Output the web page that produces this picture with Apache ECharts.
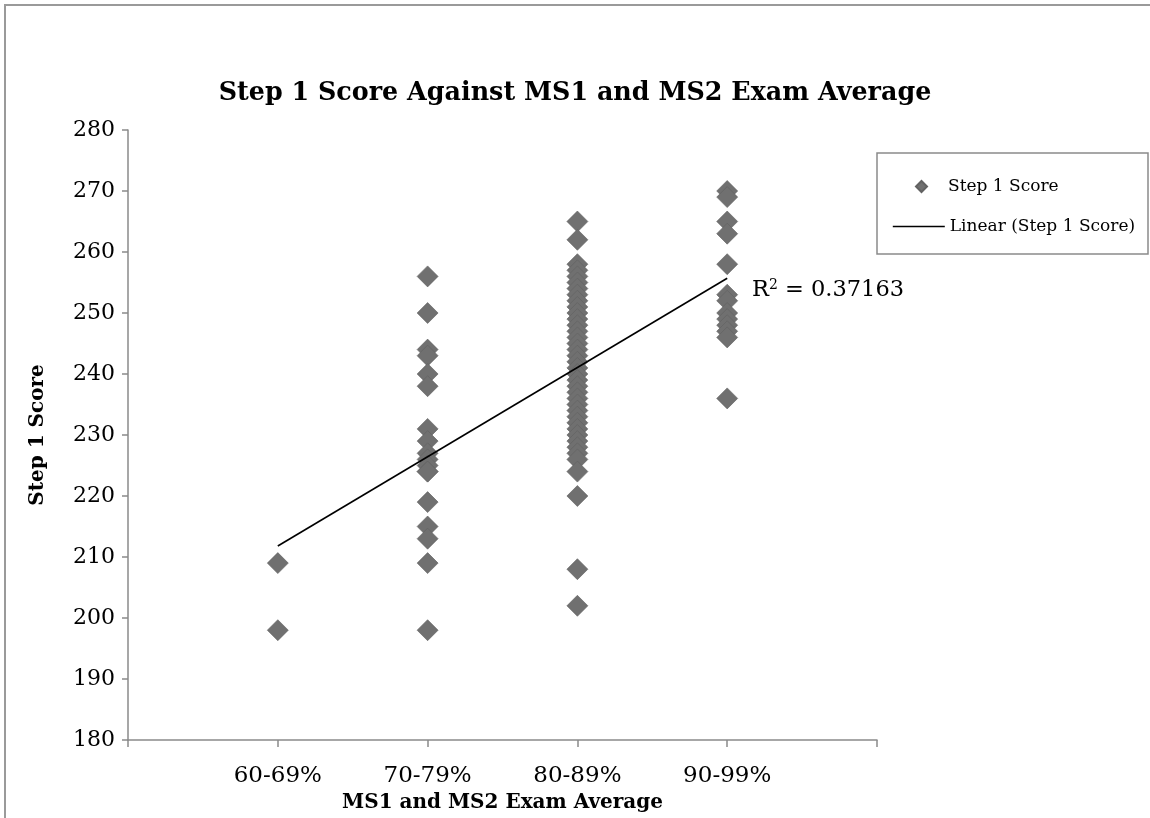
<!DOCTYPE html>
<html>
<head>
<meta charset="utf-8">
<script src="https://cdn.jsdelivr.net/npm/echarts@6/dist/echarts.min.js"></script>
<style>
  html, body { margin: 0; padding: 0; background: #fff; }
  #chart { width: 1150px; height: 818px; }
</style>
</head>
<body>
<div id="chart"></div>
<script>
// Exam-average bands, placed at x = 1..4 on a 0..5 value axis
const categories = ['60-69%', '70-79%', '80-89%', '90-99%'];

// Step 1 scores per exam-average band
const scores6069 = [209, 198];
const scores7079 = [256, 250, 244, 243, 240, 238, 231, 229, 227, 226, 225, 224, 224, 219, 215, 213, 209, 198];
const scores8089 = [265, 262, 258, 257, 256, 255, 254, 253, 252, 251, 250, 249, 248, 247, 246, 245, 244, 243,
                    242, 241, 240, 239, 238, 237, 236, 235, 234, 233, 232, 231, 230, 229, 228, 227, 226, 224,
                    220, 208, 202];
const scores9099 = [270, 269, 265, 263, 258, 253, 252, 250, 249, 248, 247, 246, 236];

// Linear trendline endpoints (at the first and last band) and its fit
const trendX = [1, 4];
const trendY = [211.8, 255.7];
const rSquared = '0.37163';

// Y axis ticks
const yMin = 180, yMax = 280, yStep = 10;

const groups = [scores6069, scores7079, scores8089, scores9099];
const scatterData = [];
groups.forEach((arr, i) => arr.forEach(v => scatterData.push([i + 1, v])));
const trendData = trendX.map((x, i) => [x, trendY[i]]);

const serif = '"DejaVu Serif", "Liberation Serif", serif';
const axisGray = '#8a8a8a';

const chart = echarts.init(document.getElementById('chart'), null, { renderer: 'canvas' });
chart.setOption({
  backgroundColor: '#ffffff',
  animation: false,
  title: {
    text: 'Step 1 Score Against MS1 and MS2 Exam Average',
    left: 'center',
    top: 76,
    textStyle: { fontFamily: serif, fontWeight: 'bold', fontSize: 25.4, color: '#000' }
  },
  grid: { left: 128, right: 273, top: 130, bottom: 78, outerBoundsMode: 'none', containLabel: false },
  legend: [
    {
      data: ['Step 1 Score'],
      left: 910, top: 173,
      itemWidth: 11, itemHeight: 11,
      icon: 'diamond',
      textStyle: { fontFamily: serif, fontSize: 17, color: '#000', padding: [0, 0, 0, 16] }
    },
    {
      data: ['Linear (Step 1 Score)'],
      left: 887, top: 213,
      itemWidth: 52, itemHeight: 14,
      itemStyle: { opacity: 0 },
      lineStyle: { color: '#000', width: 1.6 },
      textStyle: { fontFamily: serif, fontSize: 17, color: '#000', padding: [0, 0, 0, 0] }
    }
  ],
  xAxis: {
    type: 'value',
    min: 0, max: 5, interval: 1,
    name: 'MS1 and MS2 Exam Average',
    nameLocation: 'middle',
    nameGap: 53,
    nameTextStyle: { fontFamily: serif, fontWeight: 'bold', fontSize: 20, color: '#000' },
    axisLine: { show: true, onZero: false, lineStyle: { color: axisGray, width: 1.5 } },
    axisTick: { show: true, inside: false, length: 7, lineStyle: { color: axisGray, width: 1.5 } },
    axisLabel: {
      margin: 25,
      fontFamily: serif, fontSize: 23, color: '#000',
      formatter: v => categories[v - 1] || ''
    },
    splitLine: { show: false }
  },
  yAxis: {
    type: 'value',
    min: yMin, max: yMax, interval: yStep,
    name: 'Step 1 Score',
    nameLocation: 'middle',
    nameGap: 80,
    nameTextStyle: { fontFamily: serif, fontWeight: 'bold', fontSize: 20, color: '#000' },
    axisLine: { show: true, lineStyle: { color: axisGray, width: 1.5 } },
    axisTick: { show: true, inside: false, length: 6, lineStyle: { color: axisGray, width: 1.5 } },
    axisLabel: { margin: 13, fontFamily: serif, fontSize: 22, color: '#000' },
    splitLine: { show: false }
  },
  series: [
    {
      name: 'Step 1 Score',
      type: 'scatter',
      symbol: 'diamond',
      symbolSize: 21,
      data: scatterData,
      itemStyle: { color: '#707070', borderColor: '#626262', borderWidth: 0.6, opacity: 1 },
      z: 2
    },
    {
      name: 'Linear (Step 1 Score)',
      type: 'line',
      data: trendData,
      symbol: 'none',
      lineStyle: { color: '#000', width: 1.6 },
      itemStyle: { color: '#000' },
      z: 3
    }
  ],
  graphic: [
    // outer frame (top and left edges visible)
    { type: 'rect', shape: { x: 5, y: 5, width: 1300, height: 900 },
      style: { fill: 'none', stroke: '#9a9a9a', lineWidth: 2 }, silent: true },
    // legend box
    { type: 'rect', shape: { x: 877, y: 153, width: 271, height: 101 },
      style: { fill: 'none', stroke: '#8a8a8a', lineWidth: 1.5 }, silent: true },
    // R squared of the trendline
    { type: 'text', x: 752, y: 278,
      style: {
        text: '{b|R}{s|2}{b| = ' + rSquared + '}',
        rich: {
          b: { fontFamily: serif, fontSize: 22.5, color: '#000' },
          s: { fontFamily: serif, fontSize: 14, color: '#000', verticalAlign: 'top', padding: [0, 0, 10, 0] }
        }
      } }
  ]
});
</script>
</body>
</html>
